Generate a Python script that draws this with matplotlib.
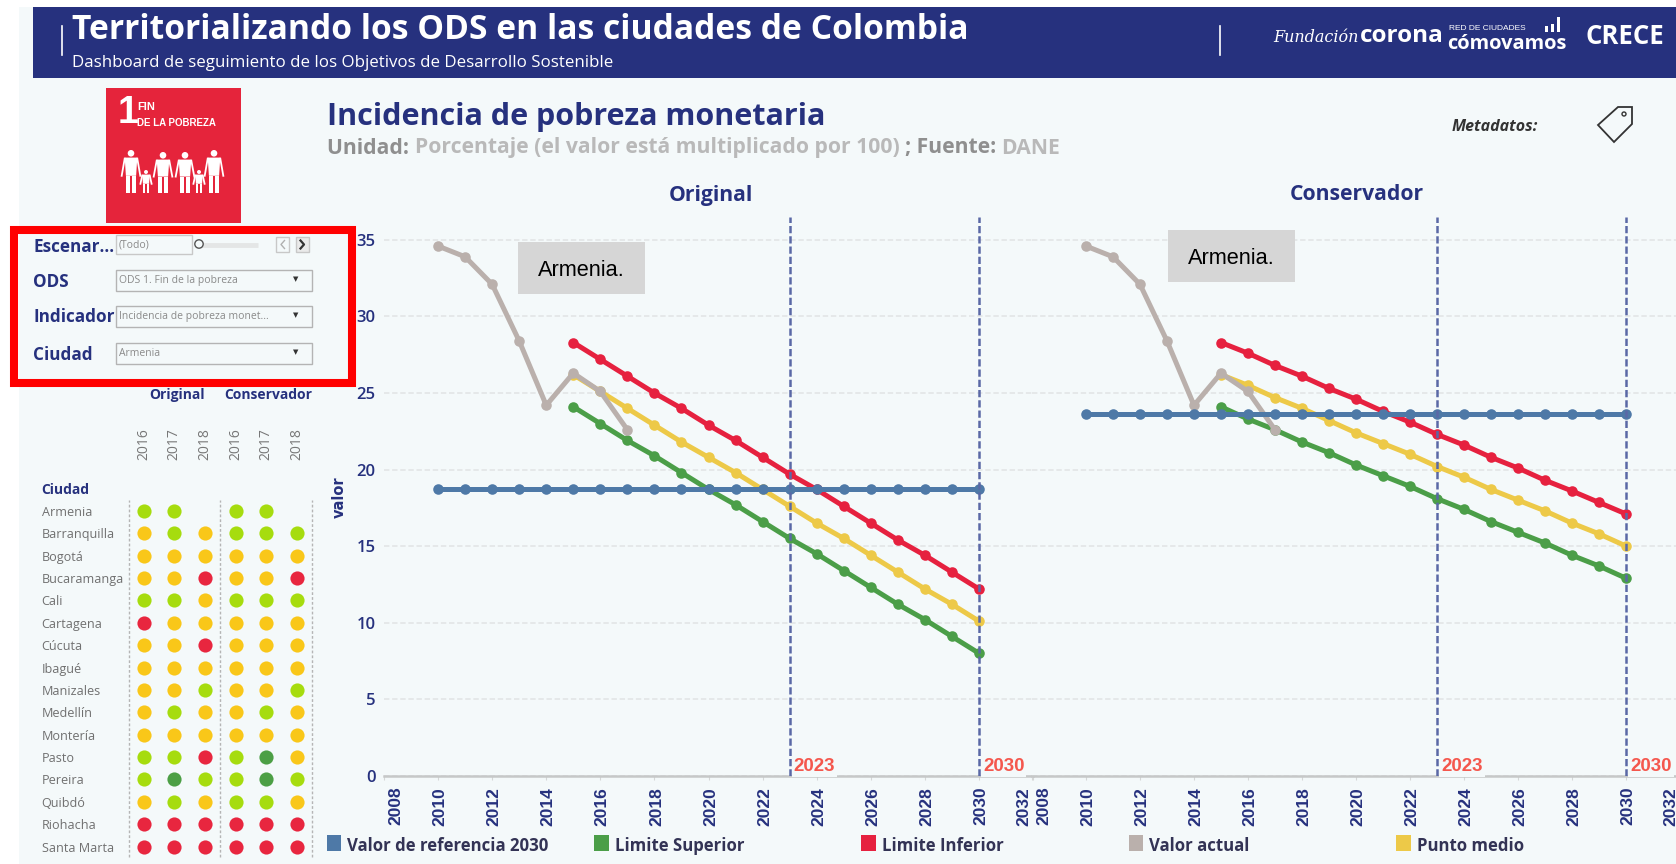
import matplotlib
matplotlib.use('Agg')
import matplotlib.pyplot as plt
from matplotlib import font_manager
from matplotlib.patches import Rectangle, Polygon, Circle
from matplotlib.transforms import ScaledTranslation

W, H = 1676, 864

# chart data
years_ref = list(range(2010, 2031))
years_act = list(range(2010, 2018))
years_lim = list(range(2015, 2031))

valor_actual = [34.6, 33.9, 32.1, 28.4, 24.2, 26.3, 25.1, 22.6]

orig_ref = [18.7] * 21
orig_inf = [28.3, 27.2, 26.1, 25.0, 24.0, 22.9, 21.9, 20.8, 19.7, 18.7, 17.6, 16.5, 15.4, 14.4, 13.3, 12.2]
orig_med = [26.2, 25.1, 24.0, 22.9, 21.8, 20.8, 19.8, 18.7, 17.6, 16.5, 15.5, 14.4, 13.3, 12.2, 11.2, 10.1]
orig_sup = [24.1, 23.0, 21.9, 20.9, 19.8, 18.7, 17.7, 16.6, 15.5, 14.5, 13.4, 12.3, 11.2, 10.2, 9.1, 8.0]

cons_ref = [23.65] * 21
cons_inf = [28.3, 27.6, 26.8, 26.1, 25.3, 24.6, 23.8, 23.1, 22.3, 21.6, 20.8, 20.1, 19.3, 18.6, 17.85, 17.1]
cons_med = [26.2, 25.5, 24.7, 24.0, 23.2, 22.4, 21.7, 21.0, 20.2, 19.5, 18.7, 18.0, 17.3, 16.5, 15.8, 15.0]
cons_sup = [24.1, 23.3, 22.6, 21.8, 21.1, 20.3, 19.6, 18.9, 18.1, 17.4, 16.6, 15.9, 15.2, 14.4, 13.7, 12.9]

# semaforo por ciudad
ciudades = ['Armenia', 'Barranquilla', 'Bogotá', 'Bucaramanga', 'Cali', 'Cartagena', 'Cúcuta', 'Ibagué',
            'Manizales', 'Medellín', 'Montería', 'Pasto', 'Pereira', 'Quibdó', 'Riohacha', 'Santa Marta']
anios = ['2016', '2017', '2018', '2016', '2017', '2018']
estados = ['GG-GG-', 'YGYGGG', 'YYYYYY', 'YYRYYR', 'GGYGGG', 'RYYYYY', 'YYRYYY', 'YYYYYY',
           'YYGYYG', 'YGYYGY', 'YYYYYY', 'GGRGDY', 'GDGGDG', 'YGYGGY', 'RRRRRR', 'RRRRRR']

NAVY = '#26317E'
BG = '#F4F9FA'
BLUE = '#4E79A7'
GREEN = '#4B9E48'
RED = '#E6213F'
GREY = '#BAB0AC'
YELLOW = '#EDC948'
sem_colors = {'G': '#A6DC0E', 'Y': '#F9C719', 'R': '#E8263F', 'D': '#4C9F45'}


def px_axes(fig, x0, y0, x1, y1):
    # axes from pixel box, y counted from the top
    return fig.add_axes([x0 / W, 1 - y1 / H, (x1 - x0) / W, (y1 - y0) / H])


fig = plt.figure(figsize=(W / 100, H / 100), dpi=100, facecolor='white')

# overlay in pixel coords for the dashboard furniture
bg = fig.add_axes([0, 0, 1, 1])
bg.set_xlim(0, W)
bg.set_ylim(H, 0)
bg.axis('off')

bg.add_patch(Rectangle((19, 0), W, H, color=BG, lw=0))
bg.add_patch(Rectangle((0, 0), W, 7, color='white', lw=0))
bg.add_patch(Rectangle((33, 7), W, 71, color=NAVY, lw=0))
bg.plot([61.5, 61.5], [26, 55], color='white', lw=1.2)
bg.plot([1219.5, 1219.5], [26, 55], color='white', lw=1.2)

bg.text(72, 30, 'Territorializando los ODS en las ciudades de Colombia', color='white',
        fontsize=24.2, fontweight='bold', family='Open Sans', va='center')
bg.text(72, 63, 'Dashboard de seguimiento de los Objetivos de Desarrollo Sostenible', color='white',
        fontsize=12.2, family='Open Sans', va='center')
bg.text(1273, 37, 'Fundación', color='white', fontsize=11.5, style='italic', family='DejaVu Serif', va='center')
bg.text(1360, 36, 'corona', color='white', fontsize=17.5, fontweight='bold', family='Open Sans', va='center')
bg.text(1449, 28, 'RED DE CIUDADES', color='white', fontsize=6, family='Liberation Sans', va='center')
bg.text(1447, 44, 'cómovamos', color='white', fontsize=14.4, family='Open Sans', fontweight='bold', va='center')
bg.text(1585, 37, 'CRECE', color='white', fontsize=18.5, fontweight='bold', family='Open Sans', va='center')
for bx, bt in zip([1545, 1551, 1557], [26, 24, 17]):
    bg.add_patch(Rectangle((bx, bt), 3, 32 - bt, color='white', lw=0))

# ODS card
bg.add_patch(Rectangle((106, 88), 135, 135, color='#E5243B', lw=0))
bg.text(117.5, 113, '1', color='white', fontsize=27, fontweight='bold', family='Liberation Sans', va='center')
installed = {f.name for f in font_manager.fontManager.ttflist}
if 'Liberation Sans Narrow' in installed:
    card_font, card_size = 'Liberation Sans Narrow', 8.6
else:
    card_font, card_size = 'Liberation Sans', 7
bg.text(137, 107, 'FIN', color='white', fontsize=card_size + 1, family=card_font, fontweight='bold', va='center')
bg.text(137, 123, 'DE LA POBREZA', color='white', fontsize=card_size, family=card_font, fontweight='bold', va='center')
for cx, tp, h, w in [(131, 150, 43, 15), (163, 152, 41, 15), (185, 152, 41, 15), (214, 150, 43, 15),
                     (146, 170, 23, 9), (199, 170, 23, 9)]:
    r = w * 0.22
    bg.add_patch(Circle((cx, tp + r), r, color='white', lw=0))
    neck = tp + 2.3 * r
    hip = tp + h * 0.6
    # torso, then legs, and arms that reach towards the kids
    bg.add_patch(Polygon([(cx - w * 0.42, neck), (cx + w * 0.42, neck), (cx + w * 0.34, hip), (cx - w * 0.34, hip)],
                         color='white', lw=0))
    bg.add_patch(Rectangle((cx - w * 0.32, hip), w * 0.26, tp + h - hip, color='white', lw=0))
    bg.add_patch(Rectangle((cx + w * 0.06, hip), w * 0.26, tp + h - hip, color='white', lw=0))
    bg.plot([cx - w * 0.42, cx - w * 0.62], [neck + 1, hip], color='white', lw=1.3)
    bg.plot([cx + w * 0.42, cx + w * 0.62], [neck + 1, hip], color='white', lw=1.3)

# titles
bg.text(327, 117, 'Incidencia de pobreza monetaria', color=NAVY, fontsize=22, fontweight='bold',
        family='Open Sans', va='center')
sub_x = 327
renderer = fig.canvas.get_renderer()
for txt, col in [('Unidad: ', '#8F8F8F'), ('Porcentaje (el valor está multiplicado por 100) ', '#B9B9B9'),
                 ('; Fuente: ', '#8F8F8F'), ('DANE', '#B9B9B9')]:
    t = bg.text(sub_x, 148, txt.replace(' ', '\u00a0'), color=col, fontsize=15.2, fontweight='bold',
                family='Open Sans', va='center')
    sub_x += t.get_window_extent(renderer).width

bg.text(1452, 127, 'Metadatos:', color='#333333', fontsize=11.5, style='italic', fontweight='bold',
        family='Open Sans', va='center')
bg.add_patch(Polygon([(1618, 107), (1632, 107), (1632, 124), (1614, 142), (1598, 125)], fill=False,
                     ec='#333333', lw=1.3))
bg.add_patch(Circle((1624, 114), 2, fill=False, ec='#333333', lw=1))

bg.text(711, 195, 'Original', color=NAVY, fontsize=15.2, fontweight='bold', family='Open Sans', ha='center', va='center')
bg.text(1357, 195, 'Conservador', color=NAVY, fontsize=15.2, fontweight='bold', family='Open Sans', ha='center', va='center')

# filter panel
for lab, ly in [('Escenar...', 246.5), ('ODS', 282), ('Indicador', 317), ('Ciudad', 355)]:
    bg.text(33, ly, lab, color=NAVY, fontsize=12.3, fontweight='bold', family='Open Sans', va='center')
for box, lab in [((270, 291), 'ODS 1. Fin de la pobreza'), ((306, 327), 'Incidencia de pobreza monet...'),
                 ((343, 364), 'Armenia')]:
    bg.add_patch(Rectangle((115.5, box[0]), 196.5, box[1] - box[0], fc='none', ec='#B4B4B4', lw=1))
    bg.text(119, (box[0] + box[1]) / 2, lab, color='#8A8A8A', fontsize=7.5, family='Open Sans', va='center')
    bg.text(296, (box[0] + box[1]) / 2 - 1, '▼', color='#333333', fontsize=5, ha='center', va='center')
bg.add_patch(Rectangle((115.5, 235), 76, 19, fc='none', ec='#C8C8C8', lw=1))
bg.text(119, 245, '(Todo)', color='#8A8A8A', fontsize=7.5, family='Open Sans', va='center')
bg.plot([200, 258], [245, 245], color='#E4E6E6', lw=3.5, solid_capstyle='butt')
bg.add_patch(Circle((199, 244), 4.2, fc=BG, ec='#555555', lw=1, zorder=3))
bg.add_patch(Rectangle((276, 237), 13, 15, fc='none', ec='#C8C8C8', lw=1))
bg.add_patch(Rectangle((296, 237), 13, 15, fc='#EAEAEA', ec='#C8C8C8', lw=1))
bg.plot([284.5, 281, 284.5], [240.5, 244.5, 248.5], color='#B0B0B0', lw=1)
bg.plot([300.5, 304, 300.5], [240.5, 244.5, 248.5], color='#333333', lw=1.6)
bg.add_patch(Rectangle((14, 230), 338, 153, fill=False, ec='#FF0000', lw=5.8, joinstyle='miter'))

# semaforo table
bg.text(177, 395, 'Original', color=NAVY, fontsize=10, fontweight='bold', family='Open Sans', ha='center', va='center')
bg.text(268, 395, 'Conservador', color=NAVY, fontsize=10, fontweight='bold', family='Open Sans', ha='center', va='center')
bg.text(41.5, 490, 'Ciudad', color=NAVY, fontsize=10, fontweight='bold', family='Open Sans', va='center')

tab = px_axes(fig, 129, 500, 312, 857)
tab.patch.set_alpha(0)
tab.set_xlim(-0.48, 5.49)
tab.set_ylim(15.46, -0.478)
for s in tab.spines.values():
    s.set_visible(False)
for vx in [-0.48, 2.5, 5.49]:
    tab.axvline(vx, color='#B5B5B5', lw=1, ls=(0, (2, 1.5)), clip_on=False)
for i, fila in enumerate(estados):
    for j, e in enumerate(fila):
        if e != '-':
            tab.scatter(j, i, s=104, color=sem_colors[e], linewidths=0, zorder=3)
tab.set_yticks(range(len(ciudades)))
tab.set_yticklabels(ciudades, fontsize=9.1, color='#707070', family='Open Sans', ha='left')
# pad is in points, 63 pt puts the left aligned names at x=41.5 px
tab.tick_params(axis='y', length=0, pad=63)
tab.xaxis.tick_top()
tab.set_xticks(range(6))
tab.set_xticklabels(anios, rotation=90, fontsize=10, color='#777777', family='Open Sans')
tab.tick_params(axis='x', length=0, pad=29)


# line charts
def draw_chart(ax, ref, sup, inf, med, show_y):
    ax.patch.set_alpha(0)
    ax.set_xlim(2008, 2032)
    ax.set_ylim(0, 36.5)
    for s in ['top', 'right', 'left']:
        ax.spines[s].set_visible(False)
    ax.spines['bottom'].set_color('#C6C8C8')
    ax.spines['bottom'].set_linewidth(1.8)
    ax.set_yticks([0, 5, 10, 15, 20, 25, 30, 35])
    ax.set_xticks(range(2008, 2033, 2))
    ax.set_xticklabels([str(v) for v in range(2008, 2033, 2)], rotation=90, fontsize=12.5,
                       fontweight='bold', family='Liberation Sans', color=NAVY)
    ax.grid(axis='y', color='#E4E7E8', lw=1.3, ls=(0, (3, 1.5)), zorder=0)
    ax.tick_params(axis='x', length=3, color='#D5D7D7', pad=5)
    ax.tick_params(axis='y', length=0, pad=6, labelsize=12, labelcolor=NAVY)
    if not show_y:
        ax.tick_params(axis='y', labelleft=False)
    for label in ax.yaxis.get_ticklabels():
        label.set_family('Open Sans')
        label.set_fontweight('semibold')
    # year labels need a small nudge, the first and last sit inside the axis ends
    labels = ax.xaxis.get_ticklabels()
    for k, label in enumerate(labels):
        shift = 2
        if k == 0:
            shift = 12
        elif k == len(labels) - 1:
            shift = -9
        label.set_transform(label.get_transform() + ScaledTranslation(shift / 100, 0, fig.dpi_scale_trans))

    ax.plot(years_lim, med, color=YELLOW, lw=3.6, marker='o', ms=7.6, mew=0, zorder=3, clip_on=False)
    ax.plot(years_act, valor_actual, color=GREY, lw=3.6, marker='o', ms=7.6, mew=0, zorder=3.5, clip_on=False)
    ax.plot(years_lim, inf, color=RED, lw=3.6, marker='o', ms=7.6, mew=0, zorder=3.2, clip_on=False)
    ax.plot(years_lim, sup, color=GREEN, lw=3.6, marker='o', ms=7.6, mew=0, zorder=3.3, clip_on=False)
    ax.plot(years_ref, ref, color=BLUE, lw=3.6, marker='o', ms=7.6, mew=0, zorder=4, clip_on=False)
    for yr in [2023, 2030]:
        ax.axvline(yr, color='#5A68A6', lw=1.8, ls=(0, (2.9, 1.2)), zorder=5)
        ax.annotate(str(yr), (yr, 0), xytext=(4, 9), textcoords='offset pixels', color='#F4574D',
                    fontsize=13.5, family='Liberation Sans', fontweight='bold', va='center', ha='left',
                    bbox=dict(fc=BG, ec='none', pad=1.5), zorder=4.5, annotation_clip=False)


ax1 = px_axes(fig, 384, 217, 1033, 775.7)
draw_chart(ax1, orig_ref, orig_sup, orig_inf, orig_med, True)
ax2 = px_axes(fig, 1032, 217, 1680, 775.7)
draw_chart(ax2, cons_ref, cons_sup, cons_inf, cons_med, False)
ax1.set_ylabel('valor', fontsize=10.5, fontweight='bold', color=NAVY)
ax1.yaxis.set_label_coords((347 - 384) / 649, (775.7 - 497) / 558.7)

# armenia boxes on top of the charts
top = fig.add_axes([0, 0, 1, 1])
top.set_xlim(0, W)
top.set_ylim(H, 0)
top.axis('off')
for bx, by in [(518, 242), (1168, 230)]:
    top.add_patch(Rectangle((bx, by), 127, 52, color='#D6D6D6', lw=0))
    top.text(bx + 63.5, by + 28, 'Armenia.', color='black', fontsize=15.7, family='Liberation Sans',
             ha='center', va='center')

# legend
for sx, tx, col, lab in [(326.5, 347, BLUE, 'Valor de referencia 2030'), (594, 615, GREEN, 'Limite Superior'),
                         (861, 882, RED, 'Limite Inferior'), (1128.5, 1149, GREY, 'Valor actual'),
                         (1396, 1417, YELLOW, 'Punto medio')]:
    top.add_patch(Rectangle((sx, 835), 14.5, 16, color=col, lw=0))
    top.text(tx, 846, lab, color='#333355', fontsize=12.1, fontweight='bold', family='Open Sans', va='center')

fig.savefig('out.png', dpi=100)
